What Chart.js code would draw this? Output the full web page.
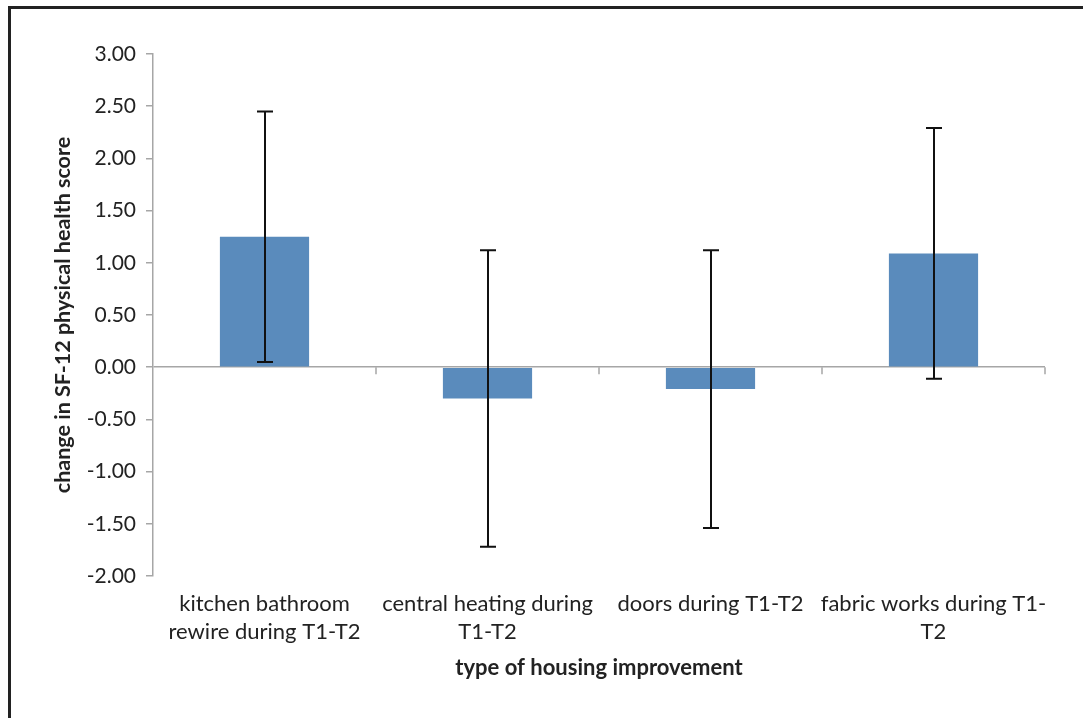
<!DOCTYPE html>
<html>
<head>
<meta charset="utf-8">
<script src="https://cdn.jsdelivr.net/npm/chart.js@4.4.1/dist/chart.umd.min.js"></script>
<style>
  html, body { margin: 0; padding: 0; background: #fff; overflow: hidden; }
  body { width: 1083px; height: 718px; position: relative; }
  #frame {
    position: absolute; left: 8px; top: 6px; width: 1120px; height: 760px;
    border: 3px solid #222; box-sizing: border-box;
  }
  #wrap { position: absolute; left: 0; top: 0; width: 1083px; height: 718px; }
</style>
</head>
<body>
<div id="frame"></div>
<div id="wrap"><canvas id="chart" width="1083" height="718"></canvas></div>
<script>
// Housing improvement types (two-line axis labels)
const categories = [
  ["kitchen bathroom", "rewire during T1-T2"],
  ["central heating during", "T1-T2"],
  ["doors during T1-T2"],
  ["fabric works during T1-", "T2"]
];
// Mean change in SF-12 physical health score
const meanChange = [1.25, -0.30, -0.21, 1.09];
// Half-width of the error bars
const errorHalf = [1.20, 1.42, 1.33, 1.20];

const yMin = -2.0, yMax = 3.0, yStep = 0.5;
const yTitle = "change in SF-12 physical health score";
const xTitle = "type of housing improvement";

const axisGrey = "#a6a6a6";
const textColor = "#222";

// Error bars drawn from each bar's value through the y scale
const errorBars = {
  id: "errorBars",
  afterDatasetsDraw(chart) {
    const meta = chart.getDatasetMeta(0);
    const y = chart.scales.y;
    const ctx = chart.ctx;
    ctx.save();
    ctx.strokeStyle = "#111";
    ctx.lineWidth = 2;
    meta.data.forEach((bar, i) => {
      const x = Math.round(bar.x);
      const hi = y.getPixelForValue(meanChange[i] + errorHalf[i]);
      const lo = y.getPixelForValue(meanChange[i] - errorHalf[i]);
      const cap = 8;
      ctx.beginPath();
      ctx.moveTo(x, hi); ctx.lineTo(x, lo);
      ctx.moveTo(x - cap, hi); ctx.lineTo(x + cap, hi);
      ctx.moveTo(x - cap, lo); ctx.lineTo(x + cap, lo);
      ctx.stroke();
    });
    ctx.restore();
  }
};

// Category boundary tick marks hanging below the zero line
const zeroAxisTicks = {
  id: "zeroAxisTicks",
  afterDatasetsDraw(chart) {
    const x = chart.scales.x;
    const y0 = chart.scales.y.getPixelForValue(0);
    const ctx = chart.ctx;
    const n = categories.length;
    ctx.save();
    ctx.strokeStyle = axisGrey;
    ctx.lineWidth = 1.5;
    for (let i = 1; i <= n; i++) {
      const px = i < n
        ? (x.getPixelForValue(i - 1) + x.getPixelForValue(i)) / 2
        : chart.chartArea.right;
      ctx.beginPath();
      ctx.moveTo(px, y0);
      ctx.lineTo(px, y0 + 7);
      ctx.stroke();
    }
    ctx.restore();
  }
};

new Chart(document.getElementById("chart"), {
  type: "bar",
  data: {
    labels: categories,
    datasets: [{
      data: meanChange,
      backgroundColor: "#5a8bbc",
      borderWidth: 0,
      categoryPercentage: 0.8,
      barPercentage: 0.5
    }]
  },
  options: {
    responsive: false,
    animation: false,
    layout: { padding: { left: 50, right: 38, top: 54, bottom: 37 } },
    plugins: { legend: { display: false }, tooltip: { enabled: false } },
    scales: {
      x: {
        offset: true,
        grid: { display: false, drawTicks: false },
        border: { display: false },
        ticks: {
          color: textColor,
          font: { family: "Lato", size: 22, lineHeight: 1.27 },
          padding: 14,
          maxRotation: 0,
          autoSkip: false
        },
        title: {
          display: true,
          text: xTitle,
          color: textColor,
          font: { family: "Lato", size: 22, weight: "bold" },
          padding: 0
        },
        afterFit(scale) { scale.height = 718 - 37 - 576; }
      },
      y: {
        min: yMin,
        max: yMax,
        border: { display: true, color: axisGrey, width: 1.5 },
        grid: {
          drawOnChartArea: true,
          color: (c) => (c.tick && c.tick.value === 0 ? axisGrey : "rgba(0,0,0,0)"),
          lineWidth: 1.5,
          tickColor: axisGrey,
          tickLength: 7
        },
        ticks: {
          stepSize: yStep,
          color: textColor,
          font: { family: "Lato", size: 21 },
          padding: 10,
          callback: (v) => Number(v).toFixed(2)
        },
        title: {
          display: true,
          text: yTitle,
          color: textColor,
          font: { family: "Lato", size: 21.5, weight: "bold" },
          padding: 0
        },
        afterFit(scale) { scale.width = 153 - 50; }
      }
    }
  },
  plugins: [errorBars, zeroAxisTicks]
});
</script>
</body>
</html>
